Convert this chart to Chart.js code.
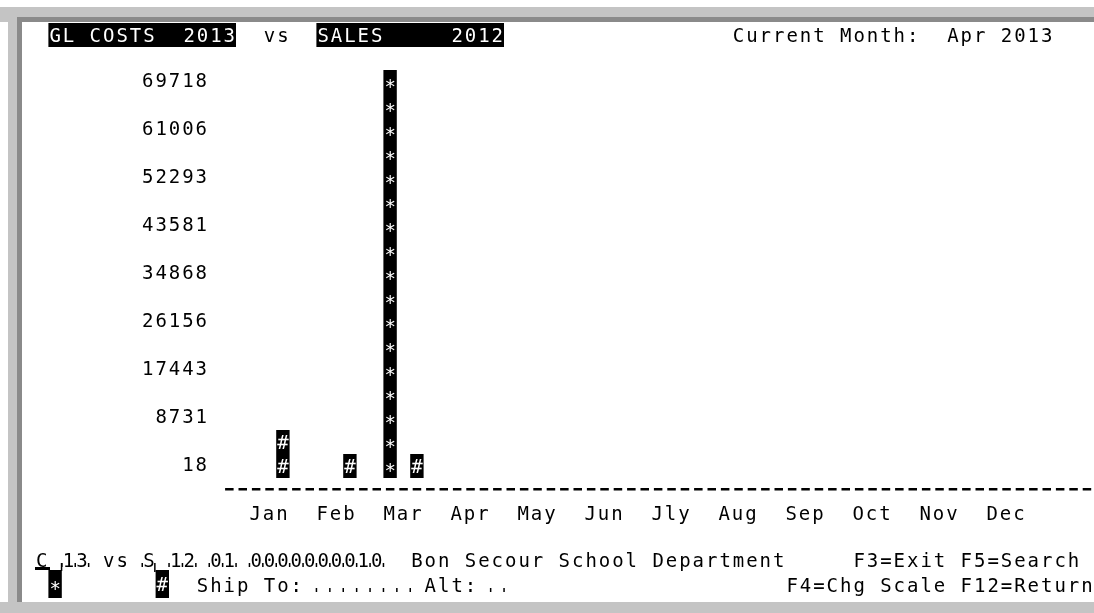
<!DOCTYPE html>
<html>
<head>
<meta charset="utf-8">
<script src="https://cdn.jsdelivr.net/npm/chart.js@4.4.0/dist/chart.umd.min.js"></script>
<style>
  html, body { margin: 0; padding: 0; background: #fff; }
  canvas { display: block; }
</style>
</head>
<body>
<canvas id="chart" width="1094" height="613"></canvas>
<script>
// data
const months = ['Jan', 'Feb', 'Mar', 'Apr', 'May', 'Jun', 'Jly', 'Aug', 'Sep', 'Oct', 'Nov', 'Dec'];
const costs2013 = [null, null, 69718, null, null, null, null, null, null, null, null, null];
const sales2012 = [4374, 18, 18, null, null, null, null, null, null, null, null, null];
const yTickLabels = ['18', '8731', '17443', '26156', '34868', '43581', '52293', '61006', '69718'];
const costMark = '*';
const salesMark = '#';

// one screen row = half the distance between two labels
const rowStep = (Number(yTickLabels[yTickLabels.length - 1]) - Number(yTickLabels[0])) / ((yTickLabels.length - 1) * 2);
const yMin = Number(yTickLabels[0]) - rowStep;
const yMax = Number(yTickLabels[yTickLabels.length - 1]);

// terminal grid
const FSIZE = 19;
const FONT = FSIZE + 'px "DejaVu Sans Mono"';
const COL0 = 35, CW = 13.4;
const SPACING = (CW - FSIZE * 0.602).toFixed(2) + 'px';
const cellX = c => COL0 + c * CW;
const markDy = m => (m === '*' ? 10.5 : 6.9);

function putText(ctx, str, col, yMid, color) {
  ctx.fillStyle = color;
  ctx.font = FONT;
  ctx.textAlign = 'center';
  ctx.textBaseline = 'alphabetic';
  for (let i = 0; i < str.length; i++) {
    if (str[i] !== ' ') ctx.fillText(str[i], cellX(col + i) + CW / 2, yMid + 6.9);
  }
}

function fieldMarks(ctx, c0, c1, yMid) {
  ctx.fillStyle = '#000';
  for (let c = c0; c <= c1; c++) ctx.fillRect(cellX(c) - 0.7, yMid + 3, 1.5, 4);
}

function markBox(ctx, col, mark) {
  ctx.fillStyle = '#000';
  ctx.fillRect(cellX(col), 570, CW, 28);
  ctx.fillStyle = '#fff';
  ctx.font = FONT;
  ctx.textAlign = 'center';
  ctx.textBaseline = 'alphabetic';
  ctx.fillText(mark, cellX(col) + CW / 2, 584 + markDy(mark));
}

const screenPlugin = {
  id: 'screen',
  beforeDraw(chart) {
    const ctx = chart.ctx;
    const W = chart.width, H = chart.height;
    ctx.save();
    ctx.fillStyle = '#fff';
    ctx.fillRect(0, 0, W, H);
    ctx.fillStyle = '#c4c4c4';
    ctx.fillRect(0, 7, W, 15);
    ctx.fillRect(8, 7, 14, H);
    ctx.fillRect(0, 602, W, 11);
    ctx.fillStyle = '#8a8a8a';
    ctx.fillRect(17, 17, W - 17, 5);
    ctx.fillRect(17, 17, 5, 585);
    ctx.restore();
    ctx.letterSpacing = SPACING;
  },
  afterDatasetsDraw(chart) {
    const ctx = chart.ctx;
    const yScale = chart.scales.y;
    const rowH = yScale.getPixelForValue(yMin) - yScale.getPixelForValue(yMin + rowStep);
    ctx.save();
    ctx.letterSpacing = '0px';
    ctx.font = FONT;
    ctx.textAlign = 'center';
    ctx.textBaseline = 'alphabetic';
    ctx.fillStyle = '#fff';
    chart.data.datasets.forEach((ds, di) => {
      const mark = di === 0 ? costMark : salesMark;
      chart.getDatasetMeta(di).data.forEach((bar, i) => {
        if (ds.data[i] == null) return;
        const n = Math.round((bar.base - bar.y) / rowH);
        for (let r = 0; r < n; r++) {
          const mid = bar.base - rowH * (r + 0.5);
          ctx.fillText(mark, bar.x, mid + markDy(mark));
        }
      });
    });
    ctx.restore();
  },
  afterDraw(chart) {
    const ctx = chart.ctx;
    ctx.save();
    ctx.letterSpacing = '0px';
    // header
    ctx.fillStyle = '#000';
    ctx.fillRect(cellX(1), 23, CW * 14, 24);
    ctx.fillRect(cellX(21), 23, CW * 14, 24);
    putText(ctx, 'GL COSTS  2013', 1, 35, '#fff');
    putText(ctx, 'vs', 17, 35, '#000');
    putText(ctx, 'SALES     2012', 21, 35, '#fff');
    putText(ctx, 'Current Month:  Apr 2013', 52, 35, '#000');
    // dashed base line
    ctx.fillStyle = '#000';
    for (let c = 14; c <= 78; c++) ctx.fillRect(cellX(c) + 2.5, 488, 8.5, 2.5);
    // footer
    putText(ctx, 'C 13 vs S 12 01 0000000010  Bon Secour School Department     F3=Exit F5=Search', 0, 560, '#000');
    fieldMarks(ctx, 2, 4, 560);
    fieldMarks(ctx, 8, 8, 560);
    fieldMarks(ctx, 10, 12, 560);
    fieldMarks(ctx, 13, 15, 560);
    fieldMarks(ctx, 16, 26, 560);
    putText(ctx, 'Ship To:', 12, 585, '#000');
    fieldMarks(ctx, 21, 28, 585);
    putText(ctx, 'Alt:', 29, 585, '#000');
    fieldMarks(ctx, 34, 35, 585);
    putText(ctx, 'F4=Chg Scale F12=Return', 56, 585, '#000');
    // legend boxes
    ctx.fillStyle = '#000';
    ctx.fillRect(35, 567, 15, 3);
    ctx.fillRect(cellX(2) - 1, 563, 1.5, 8);
    ctx.fillRect(cellX(9) - 1.5, 563, 1.5, 9);
    markBox(ctx, 1, costMark);
    markBox(ctx, 9, salesMark);
    ctx.restore();
  }
};

new Chart(document.getElementById('chart'), {
  type: 'bar',
  data: {
    labels: months,
    datasets: [
      { label: 'GL COSTS 2013', data: costs2013, base: yMin, backgroundColor: '#000', borderWidth: 0 },
      { label: 'SALES 2012', data: sales2012, base: yMin, backgroundColor: '#000', borderWidth: 0 }
    ]
  },
  options: {
    responsive: false,
    animation: false,
    categoryPercentage: 0.8,
    barPercentage: 0.5,
    layout: { padding: { left: 0, right: 54, top: 70, bottom: 0 } },
    plugins: { legend: { display: false }, tooltip: { enabled: false } },
    scales: {
      x: {
        grid: { display: false, drawTicks: false },
        border: { display: false },
        ticks: {
          color: '#000',
          font: { family: 'DejaVu Sans Mono', size: FSIZE },
          padding: 26,
          maxRotation: 0,
          autoSkip: false
        },
        afterFit(scale) { scale.height = 135; }
      },
      y: {
        min: yMin,
        max: yMax,
        grid: { display: false, drawTicks: false },
        border: { display: false },
        ticks: {
          color: '#000',
          font: { family: 'DejaVu Sans Mono', size: FSIZE },
          padding: 27,
          autoSkip: false,
          callback: (v, i) => yTickLabels[i]
        },
        afterBuildTicks(scale) {
          scale.ticks = yTickLabels.map(t => ({ value: Number(t) - rowStep / 2 }));
        },
        afterFit(scale) { scale.width = 236; }
      }
    }
  },
  plugins: [screenPlugin]
});
</script>
</body>
</html>
